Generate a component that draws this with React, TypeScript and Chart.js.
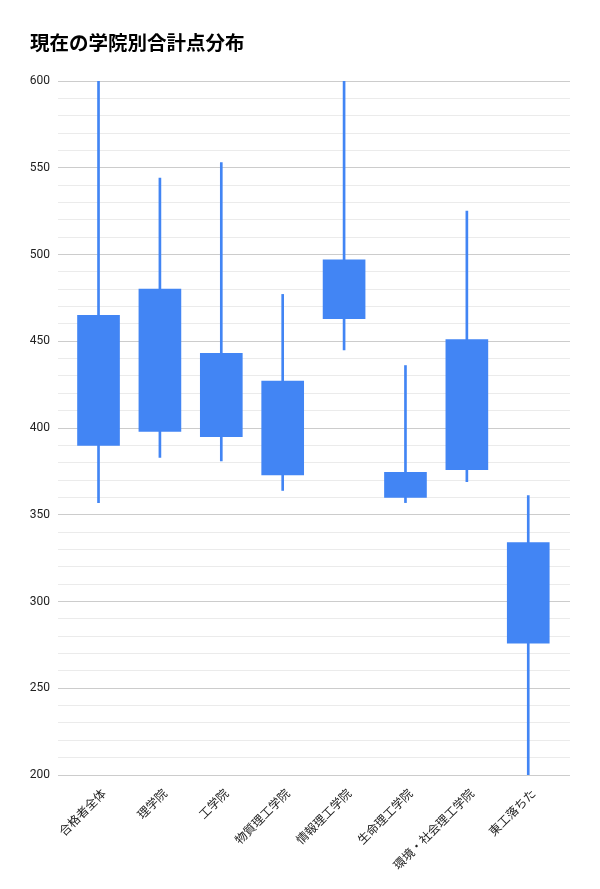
import { useEffect, useRef } from "react";
import { Chart, registerables } from "chart.js";

Chart.register(...registerables);

const categories = [
  "合格者全体",
  "理学院",
  "工学院",
  "物質理工学院",
  "情報理工学院",
  "生命理工学院",
  "環境・社会理工学院",
  "東工落ちた",
];
const lows = [357, 383, 381, 364, 445, 357, 369, 200];
const boxBottoms = [390, 398, 395, 373, 463, 360, 376, 276];
const boxTops = [465, 480, 443, 427, 497, 374.5, 451, 334];
const highs = [600, 544, 553, 477, 600, 436, 525, 361];

const BLUE = "#4285f4";

export default function App() {
  const chartRef = useRef<HTMLCanvasElement>(null);
  const chartInstance = useRef<Chart | null>(null);

  useEffect(() => {
    document.body.style.margin = "0";
    if (!chartRef.current) return;
    if (chartInstance.current) chartInstance.current.destroy();
    const ctx = chartRef.current.getContext("2d");
    if (!ctx) return;

    chartInstance.current = new Chart(ctx, {
      type: "bar",
      data: {
        datasets: [
          {
            label: "wick",
            data: categories.map((_, i) => ({ x: i, y: [lows[i], highs[i]] })) as any,
            backgroundColor: BLUE,
            barThickness: 2,
            grouped: false,
            order: 2,
          },
          {
            label: "box",
            data: categories.map((_, i) => ({ x: i, y: [boxBottoms[i], boxTops[i]] })) as any,
            backgroundColor: BLUE,
            barThickness: 42,
            grouped: false,
            order: 1,
          },
        ],
      },
      options: {
        responsive: true,
        maintainAspectRatio: false,
        animation: false,
        layout: { padding: { left: 30, right: 30, top: 0, bottom: 0 } },
        plugins: {
          legend: { display: false },
          tooltip: { enabled: false },
          title: {
            display: true,
            text: "現在の学院別合計点分布",
            align: "start",
            color: "#000000",
            font: { family: "'Noto Sans CJK JP', sans-serif", size: 19.5, weight: "bold", lineHeight: 1.2 },
            padding: { top: 31, bottom: 26.6 },
          },
        },
        scales: {
          x: {
            type: "linear",
            offset: false,
            min: -0.66,
            max: 7.68,
            grid: { display: false },
            border: { display: false },
            afterBuildTicks: (scale: any) => {
              scale.ticks = categories.map((_, i) => ({ value: i }));
            },
            afterFit: (scale: any) => {
              scale.height = 114;
            },
            ticks: {
              autoSkip: false,
              minRotation: 45,
              maxRotation: 45,
              padding: 4,
              labelOffset: 6,
              color: "#222222",
              font: { family: "Roboto, 'Noto Sans CJK JP', sans-serif", size: 12 },
              callback: (v: any) => categories[v as number] ?? "",
            },
          },
          y: {
            min: 200,
            max: 600,
            border: { display: false },
            afterFit: (scale: any) => {
              scale.width = 28;
            },
            grid: {
              color: (c: any) => (c.tick && c.tick.value % 50 === 0 ? "#cccccc" : "#ebebeb"),
              drawTicks: false,
            },
            ticks: {
              stepSize: 10,
              autoSkip: false,
              padding: 8,
              color: "#222222",
              font: { family: "Roboto, Arial, sans-serif", size: 12 },
              callback: (v: any) => (Number(v) % 50 === 0 ? String(v) : ""),
            },
          },
        },
      },
    });

    return () => {
      if (chartInstance.current) {
        chartInstance.current.destroy();
        chartInstance.current = null;
      }
    };
  }, []);

  return (
    <div style={{ width: "600px", height: "889px", position: "relative" }}>
      <canvas ref={chartRef} />
    </div>
  );
}
